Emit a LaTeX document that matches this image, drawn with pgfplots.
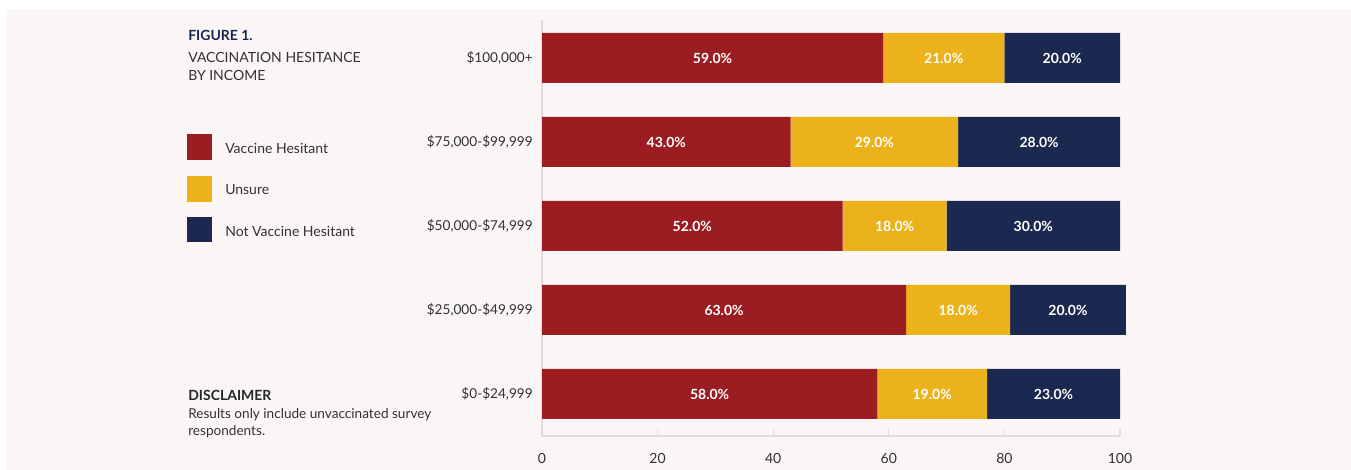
\documentclass[border=0pt]{standalone}
\usepackage{pgfplots}
\pgfplotsset{compat=1.18}
\usepackage{pgfplotstable}
\usepackage{fontspec}
\setmainfont{Lato}
\definecolor{hes}{RGB}{155,29,34}
\definecolor{uns}{RGB}{235,178,27}
\definecolor{nhes}{RGB}{27,40,80}
\definecolor{panel}{RGB}{250,246,245}
\definecolor{txt}{RGB}{50,50,50}
\definecolor{axisgray}{RGB}{222,219,218}

\pgfplotstableread{
c hes uns nhes
0 58 19 23
1 63 18 20
2 52 18 30
3 43 29 28
4 59 21 20
}\bars

\pgfplotstableread{
c mid v
0 29 58
0 67.5 19
0 88.5 23
1 31.5 63
1 72 18
1 91 20
2 26 52
2 61 18
2 85 30
3 21.5 43
3 57.5 29
3 86 28
4 29.5 59
4 69.5 21
4 90 20
}\labels

\newcommand{\fs}{\fontsize{10.5}{12.5}\selectfont}
\newcommand{\fst}{\fontsize{10.2}{12.5}\selectfont}

\begin{document}
\begin{tikzpicture}
\begin{scope}[x=0.75pt,y=0.75pt]
\fill[white] (0,0) rectangle (1351,470);
\fill[panel] (6,0) rectangle (1351,461);
\useasboundingbox (0,0) rectangle (1351,470);
\end{scope}

\begin{axis}[
  at={(406.5pt,25.5pt)}, anchor=south west,
  scale only axis, width=433.5pt, height=312pt,
  xbar stacked, bar width=37.5pt,
  xmin=0, xmax=100, ymin=-0.5, ymax=4.452,
  clip=false,
  axis x line=bottom, axis y line=left,
  axis line style={draw=axisgray, line width=0.9pt, -},
  xtick={0,20,40,60,80,100},
  xticklabels={0,20,40,60,80,100},
  tick align=inside,
  major tick length=5.25pt,
  xtick style={draw=axisgray, line width=0.9pt},
  ytick={0,1,2,3,4},
  yticklabels={{\$0-\$24,999},{\$25,000-\$49,999},{\$50,000-\$74,999},{\$75,000-\$99,999},{\$100,000+}},
  ytick style={draw=none},
  xticklabel style={font=\fs, text=txt, anchor=north, inner sep=0pt, yshift=-12.5pt},
  yticklabel style={font=\fst, text=txt, anchor=east, inner sep=0pt, xshift=-6.75pt},
]
\addplot[fill=hes, draw=none] table[x=hes, y=c] {\bars};
\addplot[fill=uns, draw=none] table[x=uns, y=c] {\bars};
\addplot[fill=nhes, draw=none] table[x=nhes, y=c] {\bars};
\end{axis}

\begin{axis}[
  at={(406.5pt,25.5pt)}, anchor=south west,
  scale only axis, width=433.5pt, height=312pt,
  xmin=0, xmax=100, ymin=-0.5, ymax=4.452,
  hide axis, clip=false,
]
\addplot[draw=none, mark=none, point meta=explicit,
  nodes near coords={\pgfmathprintnumber[fixed, fixed zerofill, precision=1, assume math mode=true]{\pgfplotspointmeta}\%},
  every node near coord/.append style={anchor=center, text=white, font=\fs\bfseries, inner sep=0pt}]
  table[x=mid, y=c, meta=v] {\labels};
\end{axis}

\begin{scope}[x=0.75pt,y=0.75pt]
\fill[hes] (187,310) rectangle (212,336);
\fill[uns] (187,268) rectangle (212,294);
\fill[nhes] (187,228) rectangle (212,253);
\node[anchor=west, inner sep=0pt, text=txt, font=\fs] at (225,322) {Vaccine Hesitant};
\node[anchor=west, inner sep=0pt, text=txt, font=\fs] at (225,280) {Unsure};
\node[anchor=west, inner sep=0pt, text=txt, font=\fs] at (225,239) {Not Vaccine Hesitant};
\node[anchor=west, inner sep=0pt, text=nhes, font=\fs\bfseries] at (188,435) {FIGURE 1.};
\node[anchor=west, inner sep=0pt, text=txt, font=\fs] at (188,413) {VACCINATION HESITANCE};
\node[anchor=west, inner sep=0pt, text=txt, font=\fs] at (188,395) {BY INCOME};
\node[anchor=west, inner sep=0pt, text=black!85, font=\fs\bfseries] at (188,75) {DISCLAIMER};
\node[anchor=west, inner sep=0pt, text=txt, font=\fst] at (188,55) {Results only include unvaccinated survey};
\node[anchor=west, inner sep=0pt, text=txt, font=\fst] at (188,38) {respondents.};
\end{scope}
\end{tikzpicture}
\end{document}
